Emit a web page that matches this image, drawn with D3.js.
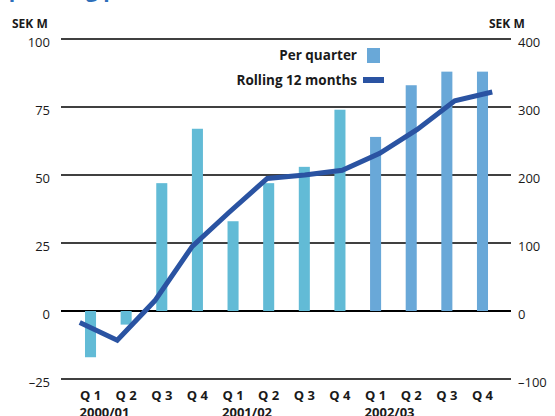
<!DOCTYPE html>
<html>
<head>
<meta charset="utf-8">
<script src="https://cdn.jsdelivr.net/npm/d3@7"></script>
<style>
  body { margin: 0; background: #fff; }
  svg { display: block; font-family: "Open Sans", "Noto Sans", sans-serif; }
</style>
</head>
<body>
<div id="chart"></div>
<script>
// quarters and fiscal years
const quarters = ["Q 1", "Q 2", "Q 3", "Q 4", "Q 1", "Q 2", "Q 3", "Q 4", "Q 1", "Q 2", "Q 3", "Q 4"];
const years = ["2000/01", "2001/02", "2002/03"];

// SEK M, per quarter (left axis)
const perQuarter = [-17, -5, 47, 67, 33, 47, 53, 74, 64, 83, 88, 88];
// SEK M, rolling 12 months (right axis)
const rolling12 = [-17, -43, 15, 95, 146, 195, 200, 207, 232, 267, 309, 322];

const leftTicks = [-25, 0, 25, 50, 75, 100];
const rightTicks = [-100, 0, 100, 200, 300, 400];

const width = 555, height = 416;
const plot = { left: 61, right: 511, top: 39, bottom: 379 };

const svg = d3.select("#chart")
    .append("svg")
    .attr("width", width)
    .attr("height", height);

const ids = quarters.map((q, i) => i);

// line points use the full plot width, bars sit a little inside
const xLine = d3.scaleBand().domain(ids).range([plot.left, plot.right]);
const xBar = d3.scaleBand().domain(ids).range([72.7, 500.3]).paddingInner(0.69).paddingOuter(0.345);

const yLeft = d3.scaleLinear().domain([-25, 100]).range([plot.bottom, plot.top]);
const yRight = d3.scaleLinear().domain([-100, 400]).range([plot.bottom, plot.top]);

// title, cut off at the top (only descenders show)
svg.append("text")
    .attr("x", -8)
    .attr("y", -3)
    .attr("fill", "#2e6fba")
    .style("font-size", "21px")
    .style("font-weight", "bold")
    .text("Operating profit");

// gridlines
svg.append("g")
    .selectAll("line")
    .data(leftTicks)
    .join("line")
    .attr("x1", plot.left)
    .attr("x2", plot.right)
    .attr("y1", d => yLeft(d))
    .attr("y2", d => yLeft(d))
    .attr("stroke", "#000")
    .attr("stroke-width", d => d === 0 ? 2 : 1.4);

// bars
svg.append("g")
    .selectAll("rect")
    .data(perQuarter)
    .join("rect")
    .attr("x", (d, i) => xBar(i))
    .attr("width", xBar.bandwidth())
    .attr("y", d => yLeft(Math.max(0, d)))
    .attr("height", d => Math.abs(yLeft(d) - yLeft(0)))
    .attr("fill", (d, i) => i < 8 ? "#62bbd6" : "#69a8d8");

// rolling line
const line = d3.line()
    .x((d, i) => xLine(i) + xLine.bandwidth() / 2)
    .y(d => yRight(d));

svg.append("path")
    .datum(rolling12)
    .attr("d", line)
    .attr("fill", "none")
    .attr("stroke", "#2a53a2")
    .attr("stroke-width", 5)
    .attr("stroke-linejoin", "miter");

// axes labels
const axisText = { fill: "#1a1a1a", size: "13px" };

svg.append("g")
    .selectAll("text")
    .data(leftTicks)
    .join("text")
    .attr("x", 50)
    .attr("y", d => yLeft(d) + 8)
    .attr("text-anchor", "end")
    .attr("fill", axisText.fill)
    .style("font-size", axisText.size)
    .text(d => d < 0 ? "\u2013" + Math.abs(d) : d);

svg.append("g")
    .selectAll("text")
    .data(rightTicks)
    .join("text")
    .attr("x", 518)
    .attr("y", d => yRight(d) + 8)
    .attr("fill", axisText.fill)
    .style("font-size", axisText.size)
    .text(d => d < 0 ? "\u2013" + Math.abs(d) : d);

svg.append("text")
    .attr("x", 12).attr("y", 28)
    .attr("fill", axisText.fill)
    .style("font-size", "12px").style("font-weight", "bold")
    .text("SEK M");

svg.append("text")
    .attr("x", 489).attr("y", 28)
    .attr("fill", axisText.fill)
    .style("font-size", "12px").style("font-weight", "bold")
    .text("SEK M");

// quarter labels
svg.append("g")
    .selectAll("text")
    .data(quarters)
    .join("text")
    .attr("x", (d, i) => xBar(i) + xBar.bandwidth() / 2)
    .attr("y", 400)
    .attr("text-anchor", "middle")
    .attr("fill", axisText.fill)
    .style("font-size", axisText.size)
    .style("font-weight", "bold")
    .text(d => d);

// year labels, left aligned with each Q 1 (cut off at the bottom, as in the print)
svg.append("g")
    .selectAll("text")
    .data(years)
    .join("text")
    .attr("x", (d, i) => xBar(i * 4) + xBar.bandwidth() / 2 - 11)
    .attr("y", 417)
    .attr("fill", axisText.fill)
    .style("font-size", axisText.size)
    .style("font-weight", "bold")
    .text(d => d);

// legend
const legend = svg.append("g");
legend.append("text")
    .attr("x", 357).attr("y", 60)
    .attr("text-anchor", "end")
    .attr("fill", axisText.fill)
    .style("font-size", "13.5px").style("font-weight", "bold")
    .text("Per quarter");
legend.append("rect")
    .attr("x", 367).attr("y", 48)
    .attr("width", 13).attr("height", 15)
    .attr("fill", "#69a8d8");
legend.append("text")
    .attr("x", 357).attr("y", 85)
    .attr("text-anchor", "end")
    .attr("fill", axisText.fill)
    .style("font-size", "13.5px").style("font-weight", "bold")
    .text("Rolling 12 months");
legend.append("rect")
    .attr("x", 363).attr("y", 77)
    .attr("width", 21).attr("height", 6)
    .attr("fill", "#2a53a2");
</script>
</body>
</html>
